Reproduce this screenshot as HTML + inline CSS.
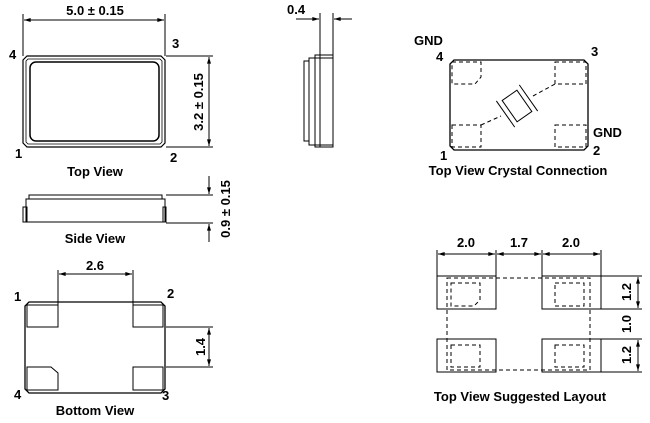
<!DOCTYPE html>
<html><head><meta charset="utf-8"><style>
html,body{margin:0;padding:0;background:#fff;width:650px;height:423px;overflow:hidden}
svg{display:block}
text{font-family:"Liberation Sans",Arial,sans-serif;font-weight:bold;font-size:13px;fill:#000}
</style></head><body>
<svg width="650" height="423" viewBox="0 0 650 423" xmlns="http://www.w3.org/2000/svg">
<defs>
<marker id="a" viewBox="0 0 10 6" refX="10" refY="3" markerWidth="8" markerHeight="4" orient="auto-start-reverse"><path d="M0,0L10,3L0,6z" fill="#000"/></marker>
</defs>
<g stroke="#000" fill="none" stroke-width="1">
<path d="M27,56H161L165,60V143L161,147H27L23,143V60Z" stroke-width="1.2"/>
<path d="M28,59H160L162,61V142L160,144H28L26,142V61Z" stroke-width="0.8"/>
<rect x="30" y="62" width="129" height="79" rx="6" stroke-width="1.5"/>
<line x1="23" y1="14" x2="23" y2="56"/><line x1="165" y1="14" x2="165" y2="56"/>
<line x1="24" y1="20" x2="164" y2="20" marker-start="url(#a)" marker-end="url(#a)"/>
<line x1="166" y1="56" x2="213" y2="56"/><line x1="166" y1="147" x2="213" y2="147"/>
<line x1="209" y1="57" x2="209" y2="146" marker-start="url(#a)" marker-end="url(#a)"/>
<rect x="304" y="61" width="5" height="80"/>
<rect x="309" y="58" width="24" height="87"/>
<rect x="315" y="55" width="18" height="92"/>
<line x1="320" y1="55" x2="320" y2="147"/>
<line x1="320" y1="13" x2="320" y2="55"/><line x1="333" y1="13" x2="333" y2="55"/>
<line x1="296" y1="19" x2="319" y2="19" marker-end="url(#a)"/>
<line x1="352" y1="19" x2="334" y2="19" marker-end="url(#a)"/>
<rect x="29" y="195" width="133" height="4"/>
<rect x="26" y="199" width="139" height="23"/>
<rect x="23" y="207" width="4" height="15"/>
<rect x="163" y="207" width="3" height="15"/>
<line x1="166" y1="195" x2="213" y2="195"/><line x1="166" y1="223" x2="213" y2="223"/>
<line x1="209" y1="176" x2="209" y2="194" marker-end="url(#a)"/>
<line x1="209" y1="242" x2="209" y2="224" marker-end="url(#a)"/>
<path d="M29,302H161L165,306V389L161,393H29L25,389V306Z" stroke-width="1.3"/>
<path d="M27,305H58V327H27Z M133,305H163V327H133Z M27,367H51L58,373V390H27Z M133,367H163V390H133Z"/>
<line x1="58" y1="270" x2="58" y2="305"/><line x1="133" y1="270" x2="133" y2="305"/>
<line x1="59" y1="274" x2="132" y2="274" marker-start="url(#a)" marker-end="url(#a)"/>
<line x1="166" y1="327" x2="213" y2="327"/><line x1="166" y1="367" x2="213" y2="367"/>
<line x1="209" y1="328" x2="209" y2="366" marker-start="url(#a)" marker-end="url(#a)"/>
<path d="M454,60H584L588,64V146L584,150H454L450,146V64Z" stroke-width="1.3"/>
<g stroke-dasharray="4,3">
<path d="M452,62H481V77L475,84H452Z M555,62H586V84H555Z M452,125H481V147H452Z M555,125H586V147H555Z"/>
<line x1="481" y1="125" x2="501" y2="116"/><line x1="533" y1="96" x2="555" y2="84"/>
</g>
<g transform="translate(517,106) rotate(-35)">
<rect x="-9" y="-13" width="18" height="26"/>
<line x1="-14" y1="-16" x2="-14" y2="16"/><line x1="14" y1="-16" x2="14" y2="16"/>
</g>
<rect x="437" y="276" width="59" height="33"/><rect x="542" y="276" width="59" height="33"/>
<rect x="437" y="339" width="59" height="33"/><rect x="542" y="339" width="59" height="33"/>
<g stroke-dasharray="4,3">
<path d="M447,278H590V370H447Z"/>
<path d="M451,283H480V300L474,306H451Z M555,283H584V306H555Z M451,345H480V367H451Z M555,345H584V367H555Z"/>
</g>
<line x1="437" y1="250" x2="437" y2="276"/><line x1="496" y1="250" x2="496" y2="276"/>
<line x1="542" y1="250" x2="542" y2="276"/><line x1="601" y1="250" x2="601" y2="276"/>
<line x1="438" y1="254" x2="495" y2="254" marker-start="url(#a)" marker-end="url(#a)"/>
<line x1="497" y1="254" x2="541" y2="254" marker-start="url(#a)" marker-end="url(#a)"/>
<line x1="543" y1="254" x2="600" y2="254" marker-start="url(#a)" marker-end="url(#a)"/>
<line x1="601" y1="276" x2="642" y2="276"/><line x1="601" y1="309" x2="642" y2="309"/>
<line x1="601" y1="339" x2="642" y2="339"/><line x1="601" y1="372" x2="642" y2="372"/>
<line x1="638" y1="277" x2="638" y2="308" marker-start="url(#a)" marker-end="url(#a)"/>
<line x1="638" y1="340" x2="638" y2="371" marker-start="url(#a)" marker-end="url(#a)"/>
</g>
<text x="95" y="15" text-anchor="middle">5.0 ± 0.15</text>
<text x="9" y="59">4</text><text x="172" y="48">3</text>
<text x="15" y="158">1</text><text x="170" y="162">2</text>
<text transform="translate(203,102) rotate(-90)" text-anchor="middle">3.2 ± 0.15</text>
<text x="95" y="176" text-anchor="middle">Top View</text>
<text x="287" y="14">0.4</text>
<text transform="translate(230,209) rotate(-90)" text-anchor="middle">0.9 ± 0.15</text>
<text x="95" y="243" text-anchor="middle">Side View</text>
<text x="95" y="270" text-anchor="middle">2.6</text>
<text x="14" y="301">1</text><text x="167" y="298">2</text>
<text x="14" y="399">4</text><text x="162" y="400">3</text>
<text transform="translate(205,347) rotate(-90)" text-anchor="middle">1.4</text>
<text x="95" y="415" text-anchor="middle">Bottom View</text>
<text x="414" y="45">GND</text><text x="436" y="61">4</text>
<text x="591" y="56">3</text><text x="593" y="137">GND</text>
<text x="593" y="155">2</text><text x="440" y="160">1</text>
<text x="518" y="175" text-anchor="middle">Top View Crystal Connection</text>
<text x="466" y="247" text-anchor="middle">2.0</text>
<text x="519" y="247" text-anchor="middle">1.7</text>
<text x="571" y="247" text-anchor="middle">2.0</text>
<text transform="translate(631,292) rotate(-90)" text-anchor="middle">1.2</text>
<text transform="translate(631,324) rotate(-90)" text-anchor="middle">1.0</text>
<text transform="translate(631,355) rotate(-90)" text-anchor="middle">1.2</text>
<text x="520" y="401" text-anchor="middle">Top View Suggested Layout</text>
</svg>
</body></html>
